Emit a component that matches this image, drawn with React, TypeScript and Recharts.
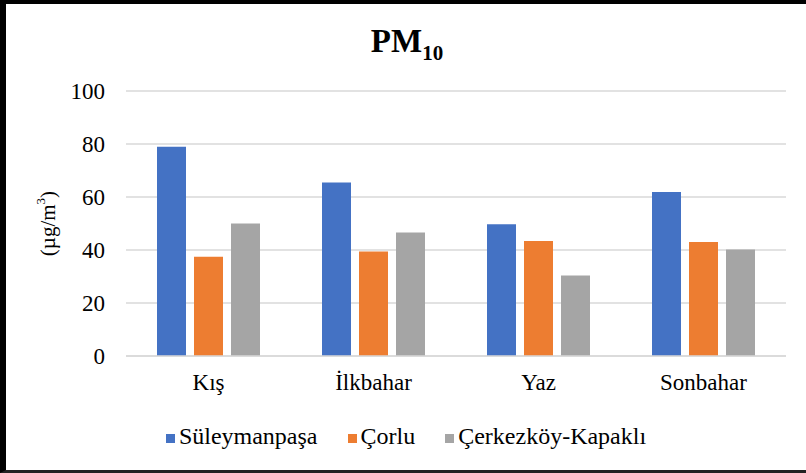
import React from "react";
import { BarChart, Bar, XAxis, YAxis, CartesianGrid, Legend } from "recharts";

const seasons = ["Kış", "İlkbahar", "Yaz", "Sonbahar"];
const suleymanpasa = [79, 65.5, 49.7, 61.9];
const corlu = [37.5, 39.4, 43.4, 43];
const cerkezkoy = [50, 46.6, 30.4, 40.2];
const yTicks = [0, 20, 40, 60, 80, 100];

const SERIES = [
  { key: "suleymanpasa", name: "Süleymanpaşa", color: "#4472C4" },
  { key: "corlu", name: "Çorlu", color: "#ED7D31" },
  { key: "cerkezkoy", name: "Çerkezköy-Kapaklı", color: "#A5A5A5" },
];

const FONT = "Liberation Serif, Times New Roman, serif";

const data = seasons.map((season, i) => ({
  season,
  suleymanpasa: suleymanpasa[i],
  corlu: corlu[i],
  cerkezkoy: cerkezkoy[i],
}));

function UnitLabel({ viewBox }: any) {
  const cx = viewBox.x + 48;
  const cy = viewBox.y + viewBox.height / 2;
  return (
    <text
      x={cx}
      y={cy}
      transform={`rotate(-90, ${cx}, ${cy})`}
      textAnchor="middle"
      dominantBaseline="central"
      fontFamily={FONT}
      fontSize={21}
      fill="#000"
    >
      (µg/m<tspan dy={-8} fontSize={13}>3</tspan>
      <tspan dy={8}>)</tspan>
    </text>
  );
}

export default function App() {
  return (
    <div
      style={{
        position: "absolute",
        left: 0,
        top: 0,
        width: 806,
        height: 473,
        background: "#fff",
        overflow: "hidden",
        fontFamily: FONT,
      }}
    >
      <div
        style={{
          position: "absolute",
          left: 0,
          top: 0,
          width: 806,
          height: 473,
          boxSizing: "border-box",
          borderTop: "4px solid #000",
          borderLeft: "6px solid #000",
          borderBottom: "3px solid #222",
          pointerEvents: "none",
          zIndex: 2,
        }}
      />
      <div
        style={{
          position: "absolute",
          left: 0,
          top: 21,
          width: 806,
          boxSizing: "border-box",
          paddingLeft: 8,
          textAlign: "center",
          fontWeight: "bold",
          fontSize: 33,
          lineHeight: "40px",
          color: "#000",
        }}
      >
        PM<sub style={{ fontSize: 21 }}>10</sub>
      </div>
      <BarChart
        width={806}
        height={473}
        data={data}
        margin={{ top: 91, right: 20, left: 0, bottom: 23 }}
        barSize={29}
        barGap={8}
      >
        <CartesianGrid vertical={false} stroke="#d9d9d9" strokeWidth={1.5} />
        <XAxis
          dataKey="season"
          height={67}
          axisLine={{ stroke: "#d9d9d9", strokeWidth: 1.5 }}
          tickLine={false}
          tickMargin={12}
          tick={{ fontFamily: FONT, fontSize: 23, fill: "#000" }}
        />
        <YAxis
          width={126}
          domain={[0, 100]}
          ticks={yTicks}
          axisLine={false}
          tickLine={false}
          tickMargin={15}
          tick={{ fontFamily: FONT, fontSize: 23, fill: "#000" }}
          label={<UnitLabel />}
        />
        <Legend
          verticalAlign="bottom"
          iconType="square"
          iconSize={9}
          itemSorter={(item: any) => SERIES.findIndex((s) => s.name === item.value)}
          wrapperStyle={{ fontFamily: FONT, fontSize: 24, paddingLeft: 56, boxSizing: "border-box" }}
          formatter={(value: string) => (
            <span style={{ color: "#000", fontFamily: FONT, fontSize: 24, marginRight: 20 }}>{value}</span>
          )}
        />
        {SERIES.map((s) => (
          <Bar key={s.key} dataKey={s.key} name={s.name} fill={s.color} isAnimationActive={false} />
        ))}
      </BarChart>
    </div>
  );
}
